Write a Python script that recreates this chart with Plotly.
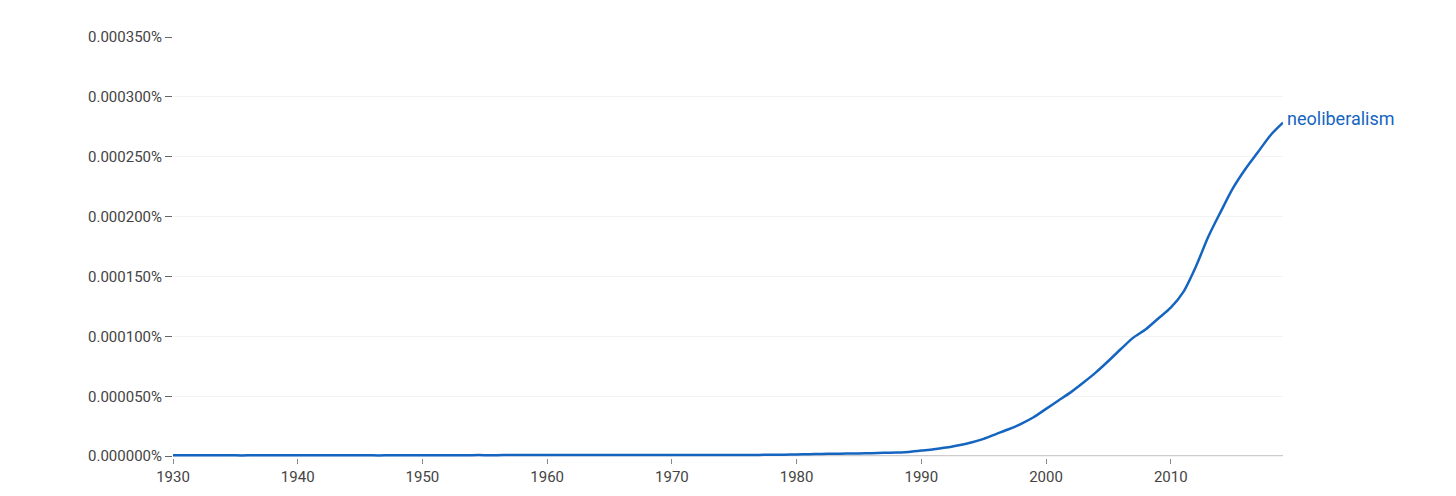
import plotly.graph_objects as go

years = list(range(1930, 2020))
# frequency in percent
values = [
    0.0000008, 0.0000008, 0.0000008, 0.0000008, 0.0000008, 0.0000007, 0.0000007, 0.0000007, 0.0000007, 0.0000007,
    0.0000007, 0.0000007, 0.0000007, 0.0000007, 0.0000007, 0.0000007, 0.0000007, 0.0000007, 0.0000008, 0.0000008,
    0.0000008, 0.0000008, 0.0000008, 0.0000008, 0.0000009, 0.0000009, 0.0000009, 0.0000010, 0.0000010, 0.0000011,
    0.0000011, 0.0000011, 0.0000011, 0.0000011, 0.0000011, 0.0000011, 0.0000011, 0.0000010, 0.0000010, 0.0000010,
    0.0000010, 0.0000010, 0.0000010, 0.0000010, 0.0000010, 0.0000010, 0.0000010, 0.0000011, 0.0000012, 0.0000013,
    0.0000015, 0.0000017, 0.0000019, 0.0000020, 0.0000022, 0.0000023, 0.0000025, 0.0000028, 0.0000031, 0.0000036,
    0.0000047, 0.0000058, 0.0000072, 0.0000092, 0.0000115, 0.0000145, 0.0000185, 0.0000225, 0.0000270, 0.0000325,
    0.0000395, 0.0000465, 0.0000535, 0.0000615, 0.0000700, 0.0000795, 0.0000895, 0.0000990, 0.0001060, 0.0001150,
    0.0001240, 0.0001370, 0.0001580, 0.0001830, 0.0002040, 0.0002240, 0.0002400, 0.0002540, 0.0002680, 0.0002785,
]
series_name = "neoliberalism"
y_ticks = [0, 0.00005, 0.0001, 0.00015, 0.0002, 0.00025, 0.0003, 0.00035]
x_ticks = [1930, 1940, 1950, 1960, 1970, 1980, 1990, 2000, 2010]

line_color = "#1565C0"
text_color = "#444444"

fig = go.Figure()
fig.add_trace(go.Scatter(
    x=years, y=values, mode="lines", name=series_name,
    line=dict(color=line_color, width=2.5, shape="spline", smoothing=0.8),
    hoverinfo="x+y",
))

fig.add_shape(type="line", xref="x", yref="y", x0=years[0], x1=years[-1], y0=0, y1=0,
              line=dict(color="#999999", width=1.2), layer="below")

fig.add_annotation(x=years[-1], y=values[-1], xref="x", yref="y", text=series_name,
                   showarrow=False, xanchor="left", yanchor="middle", xshift=2, yshift=4,
                   font=dict(family="Roboto", size=18, color=line_color))

fig.update_layout(
    width=1440, height=480,
    margin=dict(l=165, r=165, t=29, b=30),
    paper_bgcolor="white", plot_bgcolor="white",
    showlegend=False,
    font=dict(family="Roboto", size=15, color=text_color),
    xaxis=dict(
        range=[years[0], years[-1]], tickvals=x_ticks, ticktext=[str(t) for t in x_ticks],
        showgrid=False, zeroline=False, showline=False, automargin=False,
        ticks="outside", ticklen=5, tickcolor="#888888", tickwidth=1,
        tickfont=dict(family="Roboto", size=15, color=text_color),
    ),
    yaxis=dict(
        range=[-0.0000015, 0.00035], tickvals=y_ticks,
        ticktext=[f"{v:.6f}%" for v in y_ticks], automargin=False,
        showgrid=True, gridcolor="#f2f2f2", gridwidth=1, zeroline=False, showline=False,
        ticks="outside", ticklen=7, tickcolor="#666666", tickwidth=1,
        tickfont=dict(family="Roboto", size=15, color=text_color),
    ),
)

fig.write_html("out.html")
